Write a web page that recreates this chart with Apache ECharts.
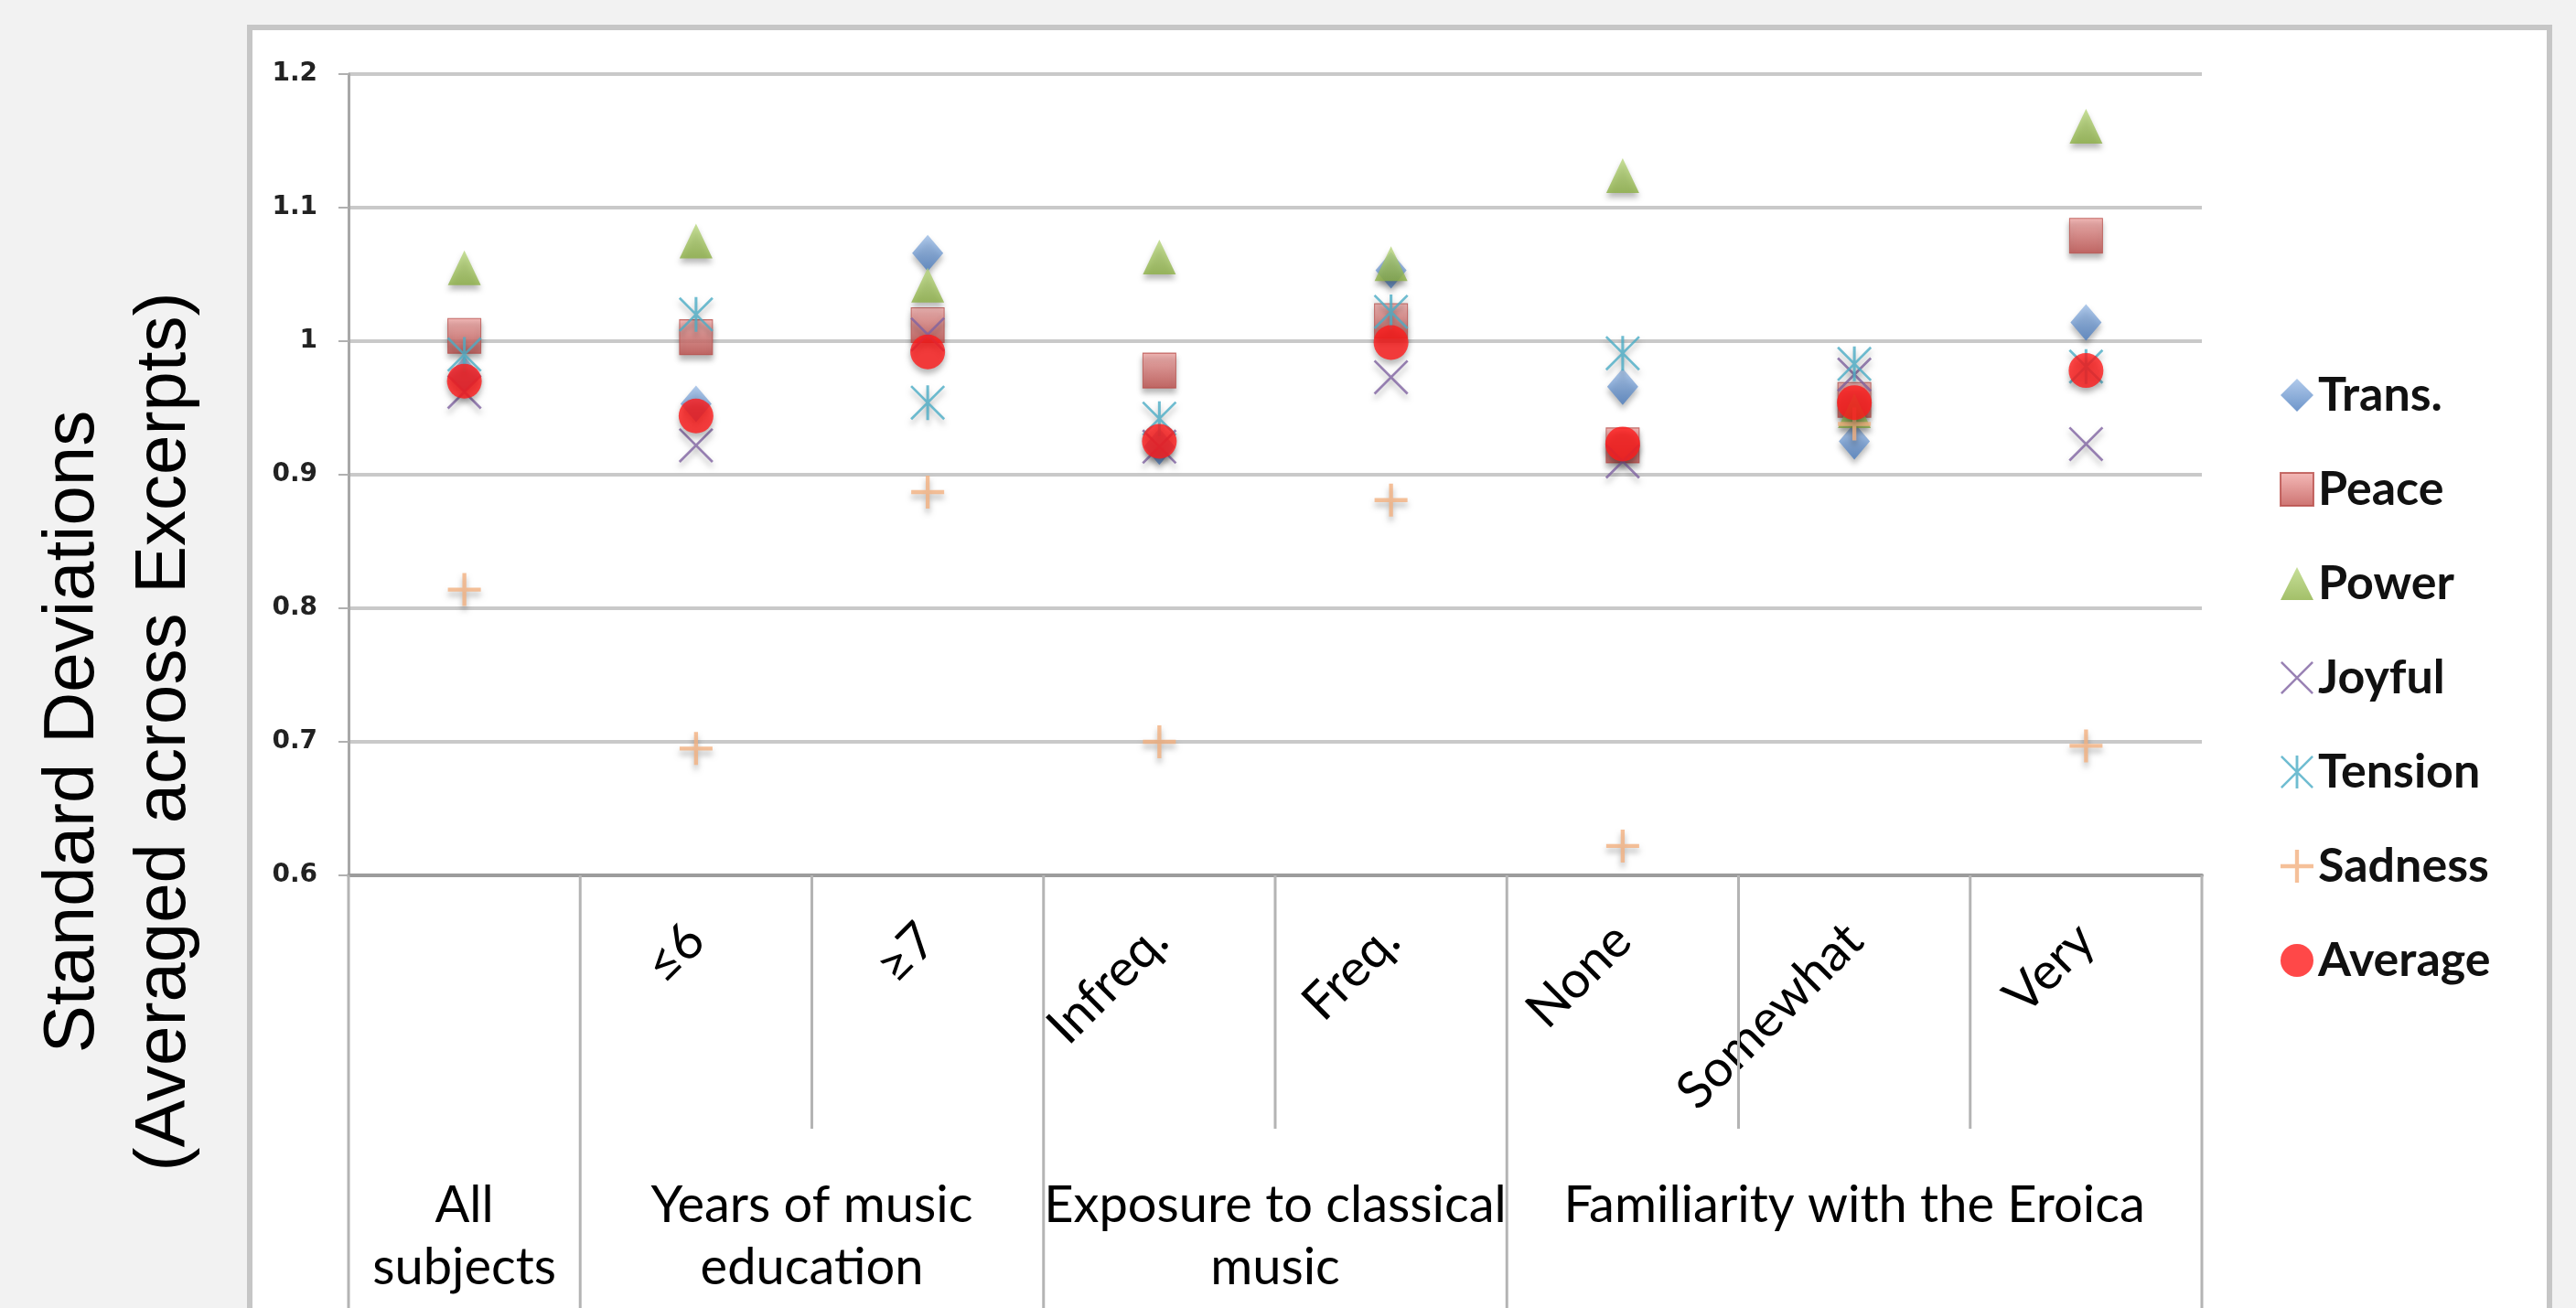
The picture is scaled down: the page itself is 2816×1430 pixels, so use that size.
<!DOCTYPE html>
<html>
<head>
<meta charset="utf-8">
<title>Standard deviations by listener group</title>
<script src="https://cdn.jsdelivr.net/npm/echarts@6/dist/echarts.min.js"></script>
<style>
  html, body { margin: 0; padding: 0; background: #f2f2f2; }
  #chart { width: 2816px; height: 1430px; }
</style>
</head>
<body>
<div id="chart"></div>
<script>
// categories along the x axis (first one is the "All subjects" column)
const categories = ['', '≤6', '≥7', 'Infreq.', 'Freq.', 'None', 'Somewhat', 'Very'];
const groupNames = ['All\nsubjects', 'Years of music\neducation', 'Exposure to classical\nmusic', 'Familiarity with the Eroica'];
const groupStart = [0, 1, 3, 5];
const groupEnd = [0, 2, 4, 7];

const yMin = 0.6, yMax = 1.2, yStep = 0.1;

// values
const trans   = [0.975, 0.953, 1.066, 0.921, 1.053, 0.966, 0.925, 1.014];
const peace   = [1.004, 1.003, 1.012, 0.978, 1.015, 0.922, 0.956, 1.079];
const power   = [1.055, 1.075, 1.042, 1.063, 1.058, 1.124, 0.948, 1.161];
const joyful  = [0.962, 0.922, 1.005, 0.921, 0.973, 0.910, 0.975, 0.923];
const tension = [0.990, 1.020, 0.954, 0.942, 1.022, 0.991, 0.983, 0.981];
const sadness = [0.814, 0.695, 0.887, 0.700, 0.881, 0.622, 0.938, 0.697];
const average = [0.970, 0.944, 0.992, 0.925, 0.999, 0.923, 0.954, 0.978];

const chart = echarts.init(document.getElementById('chart'));

const grad = (top, bottom) => ({
    type: 'linear', x: 0, y: 0, x2: 0, y2: 1,
    colorStops: [{ offset: 0, color: top }, { offset: 1, color: bottom }]
});
const shadow = { shadowColor: 'rgba(0,0,0,0.35)', shadowBlur: 6, shadowOffsetY: 5 };

const X_PATH = 'path://M0,5L5,0L100,95L95,100Z M95,0L100,5L5,100L0,95Z';
const STAR_PATH = X_PATH + ' M46,0L54,0L54,100L46,100Z';
const PLUS_PATH = 'path://M44,0L56,0L56,44L100,44L100,56L56,56L56,100L44,100L44,56L0,56L0,44L44,44Z';

const makeSeries = (name, data, symbol, size, color, extra) => ({
    name: name,
    type: 'scatter',
    data: data,
    symbol: symbol,
    symbolSize: size,
    itemStyle: Object.assign({ color: color }, shadow, extra || {})
});

chart.setOption({
    animation: false,
    backgroundColor: '#f2f2f2',
    grid: { left: 381, right: 409, top: 81, bottom: 473 },
    legend: {
        orient: 'vertical',
        left: 2487,
        top: 401,
        itemWidth: 36,
        itemHeight: 36,
        itemGap: 51,
        textStyle: { fontFamily: 'Lato', fontSize: 52, fontWeight: 'bold', color: '#111', lineHeight: 40 },
        data: ['Trans.', 'Peace', 'Power', 'Joyful', 'Tension', 'Sadness', 'Average']
    },
    xAxis: {
        type: 'category',
        data: categories,
        boundaryGap: true,
        axisLine: { show: true, lineStyle: { color: '#9c9c9c', width: 4 } },
        axisTick: { show: false },
        axisLabel: { interval: 0, rotate: 45, margin: 62, fontFamily: 'Lato', fontSize: 56, color: '#000' },
        splitLine: { show: false }
    },
    yAxis: {
        type: 'value',
        min: yMin,
        max: yMax,
        interval: yStep,
        axisLine: { show: true, lineStyle: { color: '#a8a8a8', width: 3 } },
        axisTick: { show: true, length: 11, lineStyle: { color: '#b0b0b0', width: 2 } },
        axisLabel: { fontFamily: 'DejaVu Sans', fontSize: 28, fontWeight: 'bold', color: '#222', margin: 34 },
        splitLine: { lineStyle: { color: '#c9c9c9', width: 4 } }
    },
    series: [
        makeSeries('Trans.', trans, 'diamond', [34, 40], grad('#9dbde6', '#4a7bbd')),
        makeSeries('Peace', peace, 'rect', [36, 38], grad('#f2a9a7', '#c0504d'), { borderColor: '#b84d4a', borderWidth: 1 }),
        makeSeries('Power', power, 'triangle', [36, 38], grad('#b9d77f', '#8cb044')),
        makeSeries('Joyful', joyful, X_PATH, 38, '#7f63a1'),
        makeSeries('Tension', tension, STAR_PATH, 38, '#4bacc6'),
        makeSeries('Sadness', sadness, PLUS_PATH, 36, '#f2b07f'),
        makeSeries('Average', average, 'circle', 38, '#ff1a1a')
    ]
});

// category dividers and group labels below the axis, placed from the axis scale
const x0 = chart.convertToPixel({ xAxisIndex: 0 }, 0);
const x1 = chart.convertToPixel({ xAxisIndex: 0 }, 1);
const bw = x1 - x0;
const yBase = chart.convertToPixel({ yAxisIndex: 0 }, yMin);
const boundary = k => x0 - bw / 2 + k * bw;
const longSet = groupStart.concat([categories.length]);

const elements = [{
    type: 'rect', z: -100,
    shape: { x: 273, y: 30, width: 2514, height: 1460 },
    style: { fill: '#ffffff', stroke: '#c6c6c6', lineWidth: 6 }
}, {
    type: 'text', x: 130, y: 800, rotation: Math.PI / 2,
    style: {
        text: 'Standard Deviations\n(Averaged across Excerpts)',
        fontFamily: 'Liberation Sans', fontSize: 78, lineHeight: 100,
        fill: '#000', align: 'center', verticalAlign: 'middle'
    }
}];

for (let k = 0; k <= categories.length; k++) {
    const isLong = longSet.indexOf(k) >= 0;
    elements.push({
        type: 'line', z: 5,
        shape: { x1: boundary(k), y1: yBase, x2: boundary(k), y2: isLong ? 1430 : 1234 },
        style: { stroke: '#b4b4b4', lineWidth: 3 }
    });
}

groupNames.forEach((name, i) => {
    elements.push({
        type: 'text',
        x: (boundary(groupStart[i]) + boundary(groupEnd[i] + 1)) / 2,
        y: 1284,
        style: {
            text: name, fontFamily: 'Lato', fontSize: 56, lineHeight: 68,
            fill: '#000', align: 'center', verticalAlign: 'top'
        }
    });
});

chart.setOption({ graphic: { elements: elements } });
</script>
</body>
</html>
